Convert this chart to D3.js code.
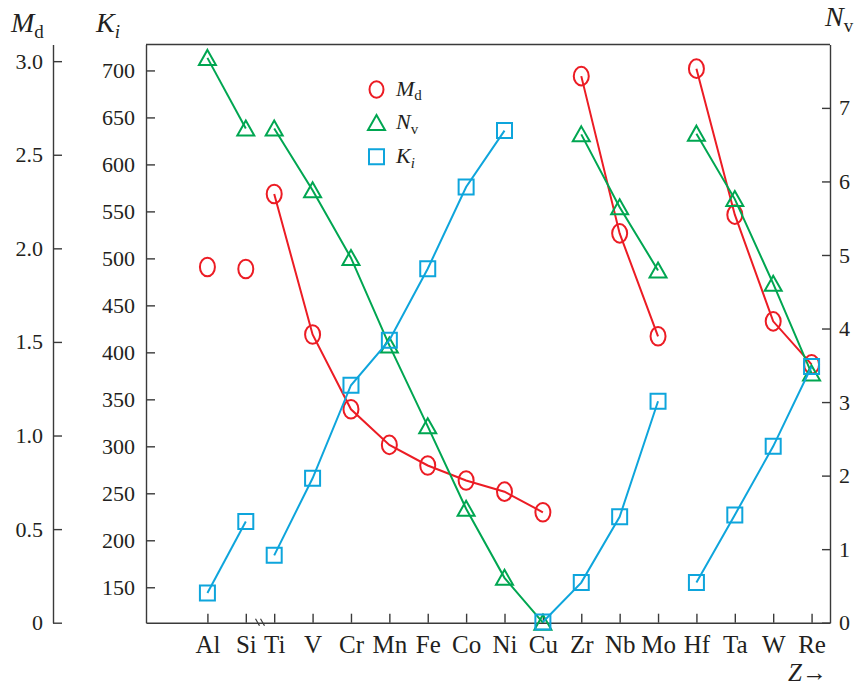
<!DOCTYPE html>
<html>
<head>
<meta charset="utf-8">
<script src="https://cdn.jsdelivr.net/npm/d3@7"></script>
<style>
  body { margin: 0; background: #fff; }
  svg, svg text { font-family: "Liberation Serif", "Times New Roman", Tinos, "DejaVu Serif", serif; }
</style>
</head>
<body>
<svg id="chart" width="855" height="687"></svg>
<script>
// elements along Z, with an axis break between Si and Ti
var elements = ["Al", "Si", "Ti", "V", "Cr", "Mn", "Fe", "Co", "Ni", "Cu", "Zr", "Nb", "Mo", "Hf", "Ta", "W", "Re"];

var mdValues = [1.90, 1.89, 2.29, 1.54, 1.14, 0.95, 0.84, 0.76, 0.70, 0.59, 2.92, 2.08, 1.53, 2.96, 2.18, 1.61, 1.38];
var nvValues = [7.68, 6.72, 6.72, 5.88, 4.96, 3.77, 2.67, 1.55, 0.61, 0.0, 6.64, 5.65, 4.79, 6.65, 5.76, 4.61, 3.39];
var kiValues = [144, 220, 184, 266, 365, 413, 489, 576, 636, 113, 155, 225, 348, 155, 227, 300, 385];

// which points are joined by lines (first, last element of each run)
var mdSegments = [["Al", "Al"], ["Si", "Si"], ["Ti", "Cu"], ["Zr", "Mo"], ["Hf", "Re"]];
var nvSegments = [["Al", "Si"], ["Ti", "Cu"], ["Zr", "Mo"], ["Hf", "Re"]];
var kiSegments = [["Al", "Si"], ["Ti", "Ni"], ["Cu", "Mo"], ["Hf", "Re"]];

var mdTicks = [0, 0.5, 1.0, 1.5, 2.0, 2.5, 3.0];
var kiTicks = [150, 200, 250, 300, 350, 400, 450, 500, 550, 600, 650, 700];
var nvTicks = [0, 1, 2, 3, 4, 5, 6, 7];

var red = "#ec1c24", green = "#00a651", blue = "#0ea5dc", ink = "#231f20";
var serif = "'Liberation Serif', 'Times New Roman', Tinos, serif";

var svg = d3.select("#chart");

var plot = {left: 146, right: 830, top: 44.5, bottom: 622.7};
var breakGap = 0.26; // Si -> Ti spacing is shorter

function slot(i) { return i >= 2 ? i - breakGap : i; }

var x = d3.scaleLinear().domain([-1.6, 16.22]).range([plot.left, plot.right]);
var yMd = d3.scaleLinear().domain([0, 3.089]).range([plot.bottom, plot.top]);
var yKi = d3.scaleLinear().domain([112.3, 727.6]).range([plot.bottom, plot.top]);
var yNv = d3.scaleLinear().domain([0, 7.862]).range([plot.bottom, plot.top]);

function styleAxis(g, size) {
    g.attr("font-family", serif).attr("font-size", size);
    g.selectAll("path, line").attr("stroke", "#3a3a3a").attr("stroke-width", 1.4);
    g.selectAll("text").attr("fill", ink);
}

// frame top line
svg.append("line")
    .attr("x1", plot.left).attr("x2", plot.right)
    .attr("y1", plot.top).attr("y2", plot.top)
    .attr("stroke", "#3a3a3a").attr("stroke-width", 1.4);

// Md axis (far left)
svg.append("g")
    .attr("transform", "translate(53,0)")
    .call(d3.axisLeft(yMd).tickValues(mdTicks)
        .tickFormat(function (d) { return d === 0 ? "0" : d3.format(".1f")(d); })
        .tickSizeInner(-9).tickSizeOuter(0).tickPadding(10))
    .call(styleAxis, 22);

// Ki axis
svg.append("g")
    .attr("transform", "translate(" + plot.left + ",0)")
    .call(d3.axisLeft(yKi).tickValues(kiTicks)
        .tickSizeInner(-9).tickSizeOuter(0).tickPadding(11))
    .call(styleAxis, 22);

// Nv axis (right)
svg.append("g")
    .attr("transform", "translate(" + plot.right + ",0)")
    .call(d3.axisRight(yNv).tickValues(nvTicks)
        .tickSizeInner(-8).tickSizeOuter(0).tickPadding(9))
    .call(styleAxis, 22);

// Z axis
var xAxis = svg.append("g")
    .attr("transform", "translate(0," + plot.bottom + ")")
    .call(d3.axisBottom(x).tickValues(elements.map(function (e, i) { return slot(i); }))
        .tickFormat(function (d, i) { return elements[i]; })
        .tickSizeInner(-9).tickSizeOuter(0).tickPadding(13))
    .call(styleAxis, 25);

// break marks between Si and Ti
var bx = x(1.5 - breakGap / 2);
[-2.5, 2.5].forEach(function (off) {
    xAxis.append("line")
        .attr("x1", bx + off - 2).attr("y1", -4)
        .attr("x2", bx + off + 2).attr("y2", 3)
        .attr("stroke", "#3a3a3a").attr("stroke-width", 1.2);
});

// series
function markerPath(shape) {
    if (shape === "tri") return "M0,-8L8.5,7L-8.5,7Z";
    if (shape === "sq") return "M-7.5,-7.5H7.5V7.5H-7.5Z";
    return null;
}

function drawSeries(values, segments, yScale, color, shape) {
    var g = svg.append("g");
    var line = d3.line()
        .x(function (d) { return x(slot(d)); })
        .y(function (d) { return yScale(values[d]); });

    segments.forEach(function (seg) {
        var a = elements.indexOf(seg[0]), b = elements.indexOf(seg[1]);
        if (b > a) {
            g.append("path")
                .attr("d", line(d3.range(a, b + 1)))
                .attr("fill", "none")
                .attr("stroke", color)
                .attr("stroke-width", 2);
        }
    });

    values.forEach(function (v, i) {
        var cx = x(slot(i)), cy = yScale(v);
        if (shape === "circle") {
            g.append("ellipse")
                .attr("cx", cx).attr("cy", cy).attr("rx", 7.5).attr("ry", 9.3)
                .attr("fill", "none").attr("stroke", color).attr("stroke-width", 2);
        } else {
            g.append("path")
                .attr("transform", "translate(" + cx + "," + cy + ")")
                .attr("d", markerPath(shape))
                .attr("fill", "none").attr("stroke", color).attr("stroke-width", 2);
        }
    });
}

drawSeries(mdValues, mdSegments, yMd, red, "circle");
drawSeries(nvValues, nvSegments, yNv, green, "tri");
drawSeries(kiValues, kiSegments, yKi, blue, "sq");

// axis titles
function label(xPos, yPos, main, sub, subItalic, size) {
    var t = svg.append("text")
        .attr("x", xPos).attr("y", yPos)
        .attr("font-family", serif)
        .attr("font-size", size).attr("fill", ink);
    t.append("tspan").attr("font-style", "italic").text(main);
    t.append("tspan")
        .attr("font-size", size * 0.68)
        .attr("font-style", subItalic ? "italic" : "normal")
        .attr("dy", size * 0.22)
        .text(sub);
    return t;
}

label(11, 32, "M", "d", false, 28);
label(96, 32, "K", "i", true, 28);
label(825, 26, "N", "v", false, 28);

var zt = svg.append("text").attr("x", 788).attr("y", 681)
    .attr("font-family", serif).attr("font-size", 25).attr("fill", ink);
zt.append("tspan").attr("font-style", "italic").text("Z");
zt.append("tspan").text("\u2192");

// legend
var legend = [
    {shape: "circle", color: red, main: "M", sub: "d", subItalic: false},
    {shape: "tri", color: green, main: "N", sub: "v", subItalic: false},
    {shape: "sq", color: blue, main: "K", sub: "i", subItalic: true}
];
legend.forEach(function (d, i) {
    var cy = 89.5 + i * 33.6;
    if (d.shape === "circle") {
        svg.append("ellipse").attr("cx", 376.5).attr("cy", cy).attr("rx", 7).attr("ry", 8.3)
            .attr("fill", "none").attr("stroke", d.color).attr("stroke-width", 2);
    } else {
        svg.append("path").attr("transform", "translate(376.5," + cy + ")")
            .attr("d", markerPath(d.shape))
            .attr("fill", "none").attr("stroke", d.color).attr("stroke-width", 2);
    }
    label(396, cy + 6, d.main, d.sub, d.subItalic, 22);
});
</script>
</body>
</html>
